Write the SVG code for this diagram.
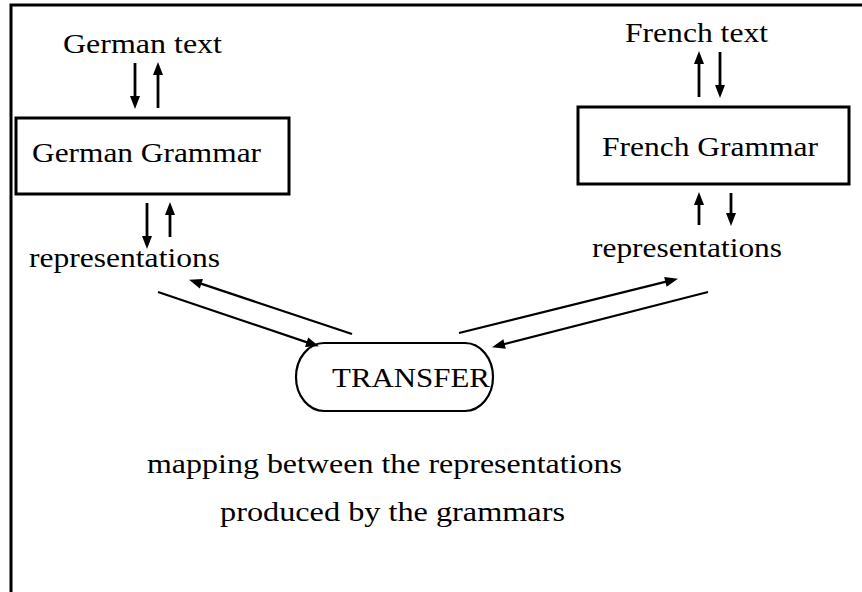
<svg xmlns="http://www.w3.org/2000/svg" width="862" height="592" viewBox="0 0 862 592">
<style>
text{font-family:"Liberation Serif","Times New Roman",serif;font-size:28px;fill:#000}
.box{fill:#fff;stroke:#000;stroke-width:3}
.pill{fill:#fff;stroke:#000;stroke-width:2.2}
.v{stroke:#000;stroke-width:2.8;fill:none;marker-end:url(#ah)}
.d{stroke:#000;stroke-width:2.2;fill:none;marker-end:url(#ah)}
.frame{stroke:#000;stroke-width:3;fill:none}
</style>
<defs>
<marker id="ah" markerUnits="userSpaceOnUse" markerWidth="13" markerHeight="10" refX="6" refY="5" orient="auto" overflow="visible">
<path d="M0,0 L13,5 L0,10 z" fill="#000"/>
</marker>
</defs>
<rect width="862" height="592" fill="#fff"/>
<path class="frame" d="M11,592 V5 H862"/>
<g id="german-text"><text x="63" y="53" textLength="159" lengthAdjust="spacingAndGlyphs">German text</text></g>
<g id="german-grammar"><rect class="box" x="16" y="118" width="273" height="76"/><text x="32" y="162" textLength="229" lengthAdjust="spacingAndGlyphs">German Grammar</text></g>
<g id="german-repr"><text x="29" y="267" textLength="191" lengthAdjust="spacingAndGlyphs">representations</text></g>
<g id="french-text"><text x="625" y="42" textLength="143" lengthAdjust="spacingAndGlyphs">French text</text></g>
<g id="french-grammar"><rect class="box" x="578" y="107" width="271" height="77"/><text x="602" y="156" textLength="216" lengthAdjust="spacingAndGlyphs">French Grammar</text></g>
<g id="french-repr"><text x="592" y="257" textLength="190" lengthAdjust="spacingAndGlyphs">representations</text></g>
<g id="transfer"><rect class="pill" x="296" y="343" width="197" height="68" rx="28" ry="34"/><text x="332" y="387" textLength="158" lengthAdjust="spacingAndGlyphs">TRANSFER</text></g>
<g id="caption"><text x="147" y="473" textLength="475" lengthAdjust="spacingAndGlyphs">mapping between the representations</text><text x="220" y="521" textLength="345" lengthAdjust="spacingAndGlyphs">produced by the grammars</text></g>
<g id="connectors">
<line class="v" x1="135" y1="63" x2="135" y2="102"/>
<line class="v" x1="158" y1="108" x2="158" y2="69"/>
<line class="v" x1="147" y1="203" x2="147" y2="242"/>
<line class="v" x1="170" y1="237" x2="170" y2="209"/>
<line class="v" x1="699" y1="97" x2="699" y2="58"/>
<line class="v" x1="720" y1="52" x2="720" y2="91"/>
<line class="v" x1="699" y1="225" x2="699" y2="199"/>
<line class="v" x1="731" y1="193" x2="731" y2="219"/>
<line class="d" x1="158" y1="292" x2="312.3" y2="344.1"/>
<line class="d" x1="352" y1="334" x2="195.7" y2="281.9"/>
<line class="d" x1="459" y1="333" x2="671.2" y2="280.4"/>
<line class="d" x1="708" y1="292" x2="498.8" y2="345.5"/>
</g>
</svg>
